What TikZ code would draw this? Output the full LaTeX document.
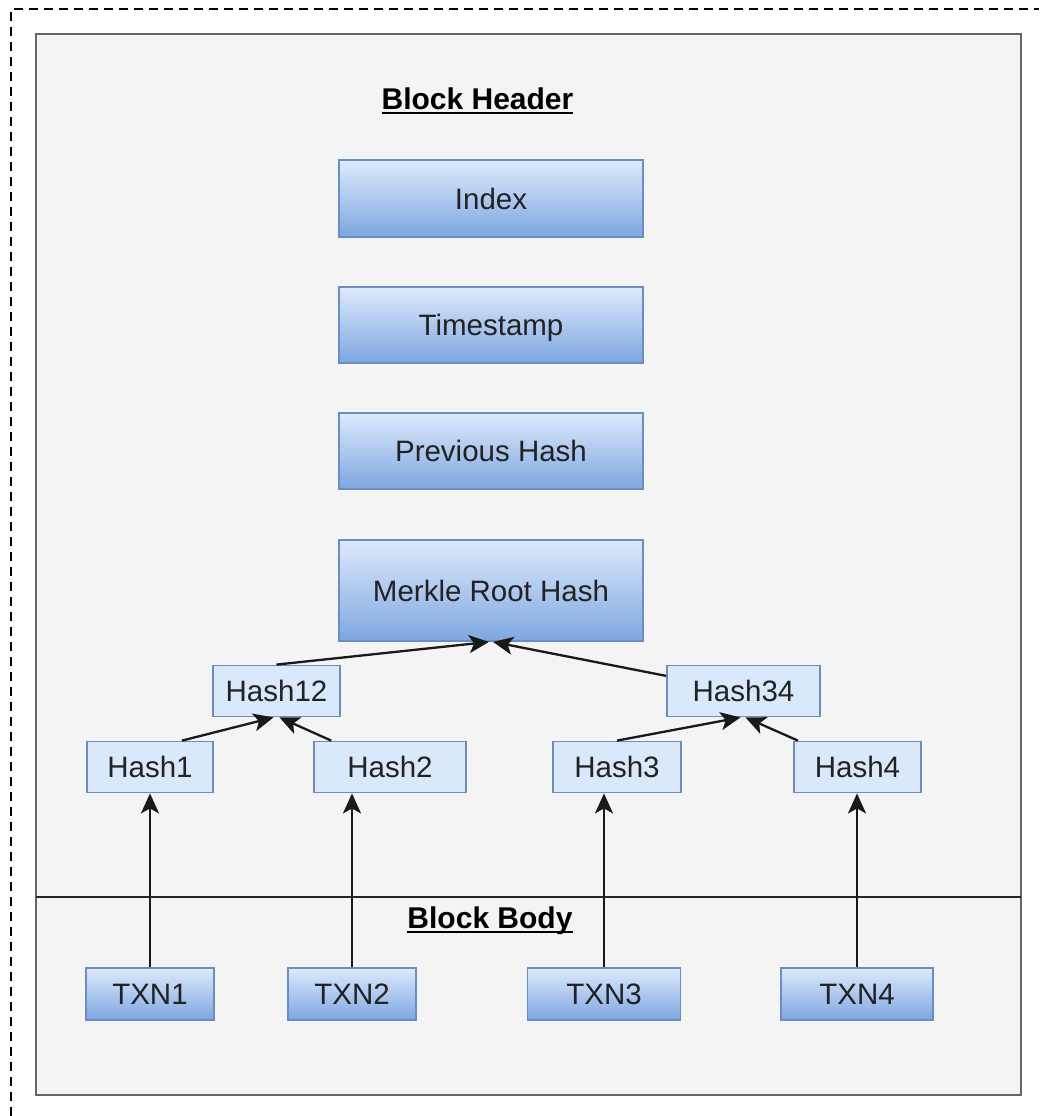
\documentclass[tikz,border=0pt]{standalone}
\usepackage{fontspec}
\setmainfont{Liberation Sans}
\usetikzlibrary{arrows.meta,calc}
\definecolor{hfill}{HTML}{DAE8FC}
\definecolor{hgrad}{HTML}{7EA6E0}
\definecolor{hstroke}{HTML}{6C8EBF}
\definecolor{panelfill}{HTML}{F4F4F4}
\definecolor{panelstroke}{HTML}{666666}
\definecolor{boxtext}{HTML}{222222}
\newcommand\myul[1]{\setbox0\hbox{#1}\rlap{\rule[-5pt]{\wd0}{2pt}}\box0}
\tikzset{
  base/.style={rectangle, inner sep=0pt, line width=1.8pt, draw=hstroke,
    text=boxtext, font=\fontsize{29.5}{35}\selectfont, text height=21pt, text depth=0pt},
  gradbox/.style={base, top color=hfill!92!white, bottom color=hgrad},
  hashbox/.style={base, fill=hfill},
  title/.style={anchor=base, inner sep=0pt, font=\fontsize{30}{36}\selectfont\bfseries, text=black},
  conn/.style={line width=2.3pt, draw=black!90, -{Stealth[length=20pt,width=18pt,inset=5pt]}},
}
\begin{document}
\begin{tikzpicture}[x=1pt,y=-1pt]
\useasboundingbox (0,0) rectangle (1039,1116);
% outer dashed frame (clipped by the page)
\draw[line width=2.2pt, dash pattern=on 9pt off 6pt] (11,1116) -- (11,9) -- (1039,9);
% panel
\draw[line width=2.4pt, draw=panelstroke, fill=panelfill] (36,34) rectangle (1021,1095);
% separator
\draw[line width=2.2pt, black!85] (36,897) -- (1021,897);
% titles
\node[title] (bh) at (477.5,109) {\myul{Block Header}};
\node[title] (bb) at (490,928) {\myul{Block Body}};
% header boxes
\node[gradbox, minimum width=304, minimum height=77] (idx) at (491,198.5) {Index};
\node[gradbox, minimum width=304, minimum height=76] (ts) at (491,325) {Timestamp};
\node[gradbox, minimum width=304, minimum height=76] (prev) at (491,451) {Previous Hash};
\node[gradbox, minimum width=304, minimum height=101] (mrk) at (491,590.5) {Merkle Root Hash};
% hash nodes
\node[hashbox, minimum width=127, minimum height=51] (h12) at (276.5,691) {Hash12};
\node[hashbox, minimum width=153, minimum height=51] (h34) at (743.5,691) {Hash34};
\node[hashbox, minimum width=126, minimum height=51] (h1) at (150,767) {Hash1};
\node[hashbox, minimum width=152, minimum height=51] (h2) at (390,767) {Hash2};
\node[hashbox, minimum width=128, minimum height=51] (h3) at (617,767) {Hash3};
\node[hashbox, minimum width=127, minimum height=51] (h4) at (857.5,767) {Hash4};
% transactions
\node[gradbox, minimum width=128, minimum height=52] (t1) at (150,994) {TXN1};
\node[gradbox, minimum width=128, minimum height=52] (t2) at (352,994) {TXN2};
\node[gradbox, minimum width=153, minimum height=52] (t3) at (604,994) {TXN3};
\node[gradbox, minimum width=152, minimum height=52] (t4) at (857,994) {TXN4};
% connectors
\draw[conn] (h12.north) -- ($(mrk.south)+(-2,0)$);
\draw[conn] (h34) -- ($(mrk.south)+(2,0)$);
\draw[conn] ($(h1.north west)!0.75!(h1.north east)$) -- ($(h12.south)+(-3,0)$);
\draw[conn] (h2) -- ($(h12.south)+(3,0)$);
\draw[conn] (h3.north) -- ($(h34.south)+(-3,0)$);
\draw[conn] (h4) -- ($(h34.south)+(2,0)$);
\draw[conn] (t1.north) -- (t1.north |- h1.south);
\draw[conn] (t2.north) -- (t2.north |- h2.south);
\draw[conn] (t3.north) -- (t3.north |- h3.south);
\draw[conn] (t4.north) -- (t4.north |- h4.south);
\end{tikzpicture}
\end{document}
